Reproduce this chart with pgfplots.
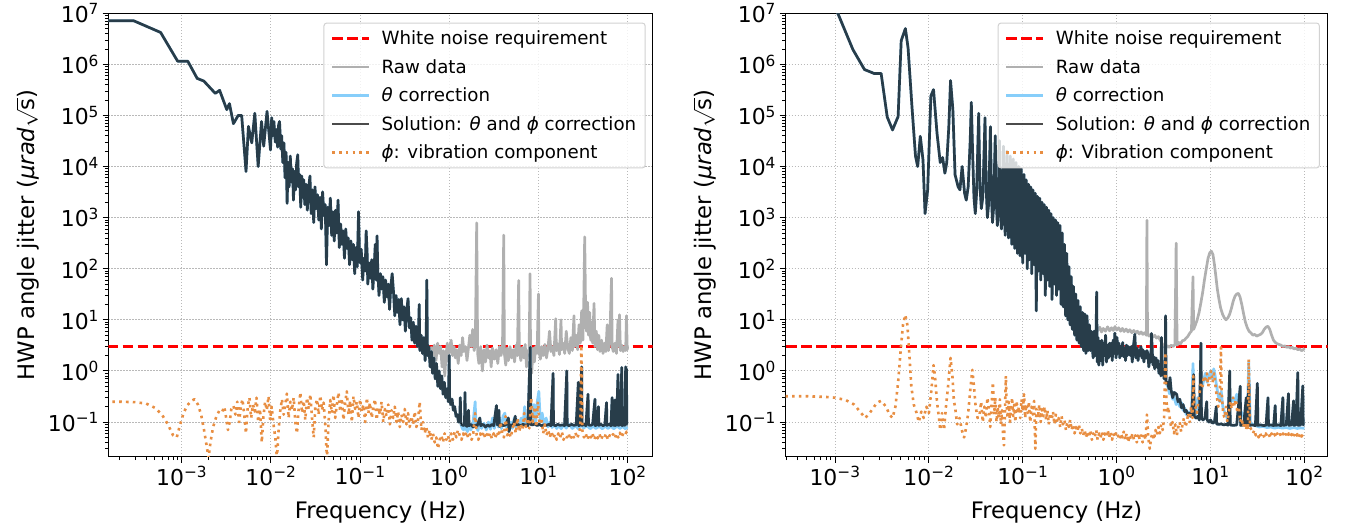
\documentclass[border=0pt]{standalone}
\usepackage{fontspec}
\setmainfont{DejaVu Sans}
\usepackage{pgfplots}
\usepackage{pgfplotstable}
\pgfplotsset{compat=1.18}

\definecolor{rawgray}{RGB}{176,176,176}
\definecolor{thetablue}{RGB}{135,206,250}
\definecolor{vibor}{RGB}{232,142,66}
\definecolor{gridgray}{RGB}{185,185,185}
\definecolor{legframe}{RGB}{210,210,210}

\newcommand\tp[1]{10\textsuperscript{#1}}

% ---------------- left panel data ----------------
\pgfplotstableread[row sep=\\]{
f v\\
1.4e-4 7.1e6\\ 2.9e-4 7.1e6\\ 5.8e-4 4.2e6\\ 9.0e-4 1.15e6\\ 1.17e-3 1.15e6\\
1.49e-3 5.3e5\\ 1.77e-3 4.7e5\\ 2.38e-3 2.7e5\\ 2.66e-3 3.1e5\\ 3.2e-3 1.3e5\\
3.43e-3 1.7e5\\ 3.8e-3 6.9e4\\ 4.3e-3 1.0e5\\ 4.7e-3 1.0e5\\ 5.26e-3 8.0e3\\
5.6e-3 6.1e4\\ 6.1e-3 2.9e4\\ 6.6e-3 1.1e5\\ 7.2e-3 1.0e4\\ 7.85e-3 7.6e4\\
8.3e-3 2.5e4\\ 9.05e-3 1.2e5\\ 9.9e-3 2.1e4\\ 1.02e-2 9.0e4\\ 1.05e-2 4.0e4\\
1.08e-2 7.6e4\\ 1.12e-2 3.0e4\\ 1.15e-2 5.3e4\\ 1.19e-2 2.4e4\\ 1.22e-2 6.5e4\\
1.25e-2 7.6e4\\ 1.29e-2 2.2e4\\ 1.32e-2 4.0e4\\ 1.36e-2 1.2e4\\ 1.40e-2 2.9e4\\
1.44e-2 6.0e3\\ 1.48e-2 1.9e4\\ 1.52e-2 1.9e3\\ 1.56e-2 1.2e4\\ 1.60e-2 4.0e3\\
1.65e-2 1.6e4\\ 1.70e-2 5.0e3\\ 1.75e-2 9.0e3\\ 1.79e-2 2.2e3\\ 1.84e-2 8.0e3\\
1.89e-2 3.5e3\\ 1.94e-2 1.1e4\\ 2.00e-2 1.7e4\\ 2.05e-2 4.0e3\\ 2.10e-2 7.0e3\\
2.16e-2 1.6e3\\ 2.22e-2 6.5e3\\ 2.28e-2 2.5e3\\ 2.33e-2 5.5e3\\ 2.40e-2 1.8e3\\
2.48e-2 4.5e3\\ 2.56e-2 1.4e3\\ 2.65e-2 3.8e3\\ 2.74e-2 6.5e3\\ 2.83e-2 1.2e3\\
2.92e-2 3.5e3\\ 3.02e-2 8.0e2\\ 3.12e-2 4.0e3\\ 3.22e-2 1.5e3\\ 3.33e-2 2.8e3\\
3.44e-2 9.0e2\\ 3.56e-2 2.5e3\\ 3.68e-2 6.0e2\\ 3.80e-2 3.2e3\\ 3.93e-2 1.1e3\\
4.06e-2 1.8e3\\ 4.20e-2 1.2e2\\ 4.34e-2 1.6e3\\ 4.49e-2 7.0e2\\ 4.64e-2 2.4e3\\
4.80e-2 4.5e2\\ 4.96e-2 1.3e3\\ 5.13e-2 3.5e2\\ 5.30e-2 1.4e3\\ 5.48e-2 5.0e2\\
5.66e-2 2.2e3\\ 5.85e-2 2.6e2\\ 6.05e-2 7.5e2\\ 6.25e-2 3.0e2\\ 6.46e-2 5.5e2\\
6.68e-2 1.6e2\\ 6.90e-2 6.0e2\\ 7.13e-2 2.5e2\\ 7.37e-2 4.0e2\\ 7.62e-2 1.2e2\\
7.88e-2 3.5e2\\ 8.15e-2 1.5e2\\ 8.42e-2 3.0e2\\ 8.70e-2 8.0e1\\ 9.00e-2 2.6e2\\
9.30e-2 1.1e2\\ 9.61e-2 1.3e3\\ 9.85e-2 2.0e2\\ 0.1005 1.3e2\\ 0.103 2.4e2\\
0.107 6.0e1\\ 0.110 1.6e2\\ 0.114 9.0e1\\ 0.117 5.5e2\\ 0.120 2.0e2\\
0.122 5.0e1\\ 0.126 1.3e2\\ 0.130 6.5e1\\ 0.135 1.5e2\\ 0.139 4.0e1\\
0.144 1.1e2\\ 0.148 3.0e2\\ 0.152 6.0e1\\ 0.155 4.4e2\\ 0.158 9.0e1\\
0.163 3.0e1\\ 0.169 8.0e1\\ 0.174 4.0e1\\ 0.180 7.0e1\\ 0.187 2.2e1\\
0.193 6.0e1\\ 0.200 2.8e1\\ 0.207 5.0e1\\ 0.214 1.6e1\\ 0.221 4.5e1\\
0.229 8.0e1\\ 0.237 3.5e1\\ 0.245 1.2e1\\ 0.253 3.0e1\\ 0.262 1.4e1\\
0.271 2.5e1\\ 0.280 8.0\\ 0.290 2.6e1\\ 0.300 1.0e1\\ 0.311 1.8e1\\
0.322 6.0\\ 0.333 1.5e1\\ 0.345 2.6e1\\ 0.357 7.0\\ 0.369 1.1e1\\
0.382 4.0\\ 0.395 9.0\\ 0.409 3.5\\ 0.423 7.5\\ 0.438 3.0\\
0.452 6.0\\ 0.460 2.0e1\\ 0.468 2.5\\ 0.484 5.0\\ 0.501 2.2\\
0.518 4.5\\ 0.536 1.6\\ 0.550 3.5\\ 0.560 6.0e1\\ 0.570 2.0\\
0.590 3.0\\ 0.610 1.2\\ 0.630 2.4\\ 0.650 0.9\\ 0.672 1.8\\
0.695 0.7\\ 0.719 1.4\\ 0.744 0.5\\ 0.770 1.0\\ 0.796 0.45\\
0.824 0.8\\ 0.852 0.35\\ 0.881 0.6\\ 0.912 0.3\\ 0.943 0.45\\
0.975 0.25\\ 1.000 2.0\\ 1.010 0.3\\ 1.040 0.22\\ 1.075 0.28\\
1.110 0.17\\ 1.150 0.2\\ 1.190 0.13\\ 1.230 0.14\\ 1.270 0.1\\
1.310 0.11\\ 1.330 0.30\\ 1.350 0.09\\
}\solLlo

\pgfplotstableread[row sep=\\]{
f v\\
1.35 0.09\\ 1.40 0.088\\ 1.45 0.085\\ 1.48 0.09\\ 1.50 0.38\\ 1.52 0.088\\ 1.58 0.082\\
1.64 0.17\\ 1.67 0.085\\ 1.75 0.09\\ 1.85 0.08\\ 1.95 0.088\\ 2.05 0.083\\ 2.20 0.12\\
2.25 0.085\\ 2.40 0.09\\ 2.55 0.08\\ 2.70 0.088\\ 2.85 0.082\\ 3.00 0.09\\ 3.15 0.085\\
3.38 0.21\\ 3.45 0.088\\ 3.60 0.17\\ 3.66 0.082\\ 3.85 0.09\\ 4.05 0.085\\ 4.30 0.088\\
4.60 0.12\\ 4.66 0.065\\ 4.90 0.088\\ 5.20 0.085\\ 5.50 0.13\\ 5.56 0.088\\ 5.90 0.09\\
6.30 0.085\\ 6.70 0.09\\ 7.10 0.088\\ 7.60 0.085\\ 8.10 2.9\\ 8.18 0.09\\ 8.60 0.088\\
9.10 0.092\\ 9.60 0.086\\ 10.2 0.09\\ 10.8 0.085\\ 11.5 0.088\\ 12.2 0.086\\ 13.0 0.09\\
13.8 0.085\\ 14.6 0.9\\ 14.75 0.088\\ 15.5 0.085\\ 16.5 0.09\\ 17.5 0.086\\ 18.5 0.088\\
19.6 0.085\\ 20.8 1.0\\ 21.0 0.088\\ 22.0 0.085\\ 23.5 0.09\\ 25.0 0.086\\ 26.5 0.088\\
28.0 0.6\\ 28.3 0.085\\ 29.5 0.088\\ 30.5 1.2\\ 30.8 0.086\\ 32.5 0.09\\ 34.0 0.085\\
36.0 0.35\\ 36.4 0.088\\ 38.5 0.086\\ 40.5 0.09\\ 43.0 0.28\\ 43.4 0.085\\ 45.0 0.088\\
47.0 0.2\\ 47.5 0.086\\ 50.0 0.09\\ 53.0 0.085\\ 55.5 0.088\\ 58.0 0.24\\ 58.6 0.086\\
62.0 0.09\\ 65.0 0.085\\ 67.0 0.3\\ 67.7 0.088\\ 70.0 0.086\\ 72.0 0.27\\ 72.7 0.085\\
75.0 0.09\\ 78.0 0.85\\ 78.8 0.086\\ 82.0 0.088\\ 86.0 1.17\\ 86.9 0.085\\ 90.0 0.09\\
93.0 0.086\\ 95.0 1.2\\ 96.0 0.35\\ 97.0 1.1\\ 98.0 0.09\\ 100 0.09\\
}\solLhi

\pgfplotstableread[row sep=\\]{
f v\\
1.35 0.09\\ 1.40 0.075\\ 1.45 0.07\\ 1.50 0.12\\ 1.55 0.072\\ 1.60 0.065\\ 1.68 0.085\\
1.75 0.07\\ 1.85 0.1\\ 1.95 0.25\\ 2.00 0.08\\ 2.10 0.068\\ 2.20 0.11\\ 2.30 0.075\\
2.45 0.095\\ 2.60 0.07\\ 2.75 0.1\\ 2.90 0.072\\ 3.05 0.12\\ 3.20 0.075\\ 3.40 0.14\\
3.55 0.08\\ 3.70 0.11\\ 3.85 0.074\\ 4.00 0.13\\ 4.20 0.15\\ 4.35 0.08\\ 4.50 0.12\\
4.70 0.07\\ 4.90 0.1\\ 5.10 0.075\\ 5.35 0.12\\ 5.60 0.078\\ 5.85 0.11\\ 6.10 0.08\\
6.40 0.12\\ 6.70 0.082\\ 7.00 0.2\\ 7.30 0.085\\ 7.60 0.13\\ 7.90 0.09\\ 8.20 0.3\\
8.50 0.11\\ 8.90 0.22\\ 9.30 0.09\\ 9.70 0.25\\ 10.1 0.4\\ 10.5 0.1\\ 11.0 0.15\\
11.6 0.085\\ 12.2 0.12\\ 12.8 0.08\\ 13.5 0.1\\ 14.2 0.078\\ 15.0 0.09\\ 16 0.075\\
17 0.085\\ 18 0.074\\ 19 0.088\\ 20.5 0.076\\ 22 0.09\\ 24 0.075\\ 26 0.085\\
28 0.074\\ 30 0.09\\ 32 0.076\\ 35 0.085\\ 38 0.074\\ 41 0.083\\ 44 0.075\\
48 0.082\\ 52 0.074\\ 56 0.083\\ 60 0.075\\ 65 0.082\\ 70 0.074\\ 76 0.083\\
82 0.075\\ 88 0.082\\ 94 0.074\\ 100 0.08\\
}\thLhi

\pgfplotstableread[row sep=\\]{
f v\\
0.62 3.0\\ 0.65 2.0\\ 0.68 3.2\\ 0.71 1.6\\ 0.74 3.5\\ 0.77 2.2\\ 0.80 3.0\\ 0.83 1.2\\
0.86 2.5\\ 0.89 0.8\\ 0.92 2.0\\ 0.95 3.5\\ 0.98 1.5\\ 1.01 2.8\\ 1.05 4.0\\ 1.09 2.0\\
1.13 3.0\\ 1.17 1.8\\ 1.21 2.6\\ 1.26 1.4\\ 1.31 3.2\\ 1.36 2.0\\ 1.41 4.5\\ 1.46 2.4\\
1.52 3.0\\ 1.58 1.6\\ 1.64 2.8\\ 1.70 5.0\\ 1.76 3.0\\ 1.83 6.5\\ 1.90 2.5\\ 1.96 3.5\\
2.03 790\\ 2.08 2.2\\ 2.15 1.4\\ 2.25 3.0\\ 2.35 1.0\\ 2.45 2.6\\ 2.55 1.5\\ 2.65 3.2\\
2.75 1.8\\ 2.85 2.5\\ 2.95 1.2\\ 3.05 2.8\\ 3.2 1.7\\ 3.35 2.6\\ 3.5 1.4\\ 3.65 3.0\\
3.8 2.0\\ 3.95 2.8\\ 4.08 455\\ 4.15 2.2\\ 4.3 1.3\\ 4.45 2.8\\ 4.6 1.6\\ 4.8 3.0\\
5.0 1.8\\ 5.2 2.6\\ 5.4 1.5\\ 5.6 3.2\\ 5.8 2.0\\ 6.0 59\\ 6.1 2.6\\ 6.35 1.6\\
6.6 2.9\\ 6.85 1.8\\ 7.1 3.3\\ 7.35 1.2\\ 7.6 2.5\\ 7.85 2.0\\ 8.05 80\\ 8.15 2.4\\
8.4 0.9\\ 8.7 2.8\\ 9.0 1.5\\ 9.3 3.0\\ 9.65 2.2\\ 10.0 32\\ 10.1 2.6\\ 10.5 1.7\\
10.9 3.0\\ 11.3 2.0\\ 11.8 3.3\\ 12.3 1.8\\ 12.8 2.8\\ 13.3 6.0\\ 13.8 2.4\\ 14.3 3.0\\
14.9 2.0\\ 15.6 10.5\\ 15.9 2.5\\ 16.5 3.4\\ 17.2 2.1\\ 17.9 10\\ 18.2 2.6\\ 18.9 3.5\\
19.7 2.2\\ 20.5 6\\ 21.3 2.8\\ 22.2 2.2\\ 23.1 4.5\\ 24.0 2.5\\ 25.0 12\\ 25.5 3.0\\
26.5 5.0\\ 27.5 2.6\\ 28.5 8.0\\ 29.5 3.5\\ 30.5 15\\ 31.5 4.0\\ 32.3 28\\ 33.0 420\\
33.7 20\\ 34.5 6\\ 35.5 22\\ 36.5 5\\ 37.5 14\\ 38.5 4\\ 39.5 9\\ 40.5 3.5\\
42.0 21\\ 43.0 3.0\\ 44.5 6\\ 46.0 2.6\\ 47.5 5\\ 49 2.4\\ 51 4\\ 53 2.2\\
55 3.5\\ 57 2.4\\ 59 8\\ 61 2.5\\ 63 4\\ 66 65\\ 67 3\\ 69 2.4\\
72 3.5\\ 75 2.2\\ 78 10\\ 80 3\\ 81 12.6\\ 83 2.5\\ 86 3.2\\ 89 2.4\\
92 3.0\\ 95 2.5\\ 97 12\\ 99 2.6\\ 100 3.0\\
}\rawL

\pgfplotstableread[row sep=\\]{
f v\\
1.4e-4 0.25\\ 2.0e-4 0.25\\ 3.0e-4 0.245\\ 4.0e-4 0.23\\ 5.0e-4 0.19\\ 6.0e-4 0.14\\
7.0e-4 0.09\\ 8.0e-4 0.055\\ 8.8e-4 0.05\\ 9.6e-4 0.09\\ 1.05e-3 0.15\\ 1.15e-3 0.21\\
1.28e-3 0.26\\ 1.40e-3 0.28\\ 1.52e-3 0.22\\ 1.65e-3 0.14\\ 1.78e-3 0.07\\ 1.90e-3 0.035\\
2.00e-3 0.02\\ 2.10e-3 0.04\\ 2.25e-3 0.08\\ 2.45e-3 0.13\\ 2.65e-3 0.17\\ 2.85e-3 0.16\\
3.00e-3 0.2\\ 3.15e-3 0.12\\ 3.30e-3 0.07\\ 3.45e-3 0.1\\ 3.60e-3 0.18\\ 3.80e-3 0.21\\
4.00e-3 0.14\\ 4.20e-3 0.25\\ 4.40e-3 0.1\\ 4.60e-3 0.2\\ 4.80e-3 0.28\\ 5.00e-3 0.15\\
5.25e-3 0.06\\ 5.50e-3 0.2\\ 5.75e-3 0.3\\ 6.00e-3 0.12\\ 6.30e-3 0.22\\ 6.60e-3 0.16\\
6.90e-3 0.3\\ 7.20e-3 0.1\\ 7.55e-3 0.18\\ 7.90e-3 0.04\\ 8.25e-3 0.13\\ 8.60e-3 0.25\\
9.00e-3 0.17\\ 9.40e-3 0.32\\ 9.80e-3 0.11\\ 1.02e-2 0.2\\ 1.07e-2 0.09\\ 1.12e-2 0.05\\
1.17e-2 0.019\\ 1.22e-2 0.07\\ 1.27e-2 0.16\\ 1.33e-2 0.28\\ 1.39e-2 0.14\\ 1.45e-2 0.22\\
1.51e-2 0.36\\ 1.58e-2 0.12\\ 1.65e-2 0.25\\ 1.72e-2 0.17\\ 1.80e-2 0.3\\ 1.88e-2 0.1\\
1.96e-2 0.06\\ 2.05e-2 0.19\\ 2.14e-2 0.38\\ 2.23e-2 0.15\\ 2.33e-2 0.26\\ 2.43e-2 0.11\\
2.54e-2 0.3\\ 2.65e-2 0.18\\ 2.77e-2 0.35\\ 2.89e-2 0.12\\ 3.02e-2 0.05\\ 3.15e-2 0.2\\
3.29e-2 0.28\\ 3.43e-2 0.14\\ 3.58e-2 0.33\\ 3.74e-2 0.17\\ 3.90e-2 0.24\\ 4.07e-2 0.09\\
4.25e-2 0.019\\ 4.43e-2 0.1\\ 4.63e-2 0.27\\ 4.83e-2 0.15\\ 5.04e-2 0.34\\ 5.26e-2 0.12\\
5.49e-2 0.22\\ 5.73e-2 0.38\\ 5.98e-2 0.16\\ 6.25e-2 0.29\\ 6.52e-2 0.11\\ 6.80e-2 0.24\\
7.10e-2 0.4\\ 7.41e-2 0.14\\ 7.74e-2 0.26\\ 8.08e-2 0.1\\ 8.43e-2 0.32\\ 8.80e-2 0.18\\
9.19e-2 0.25\\ 9.59e-2 0.12\\ 0.100 0.28\\ 0.104 0.16\\ 0.109 0.22\\ 0.114 0.1\\
0.119 0.3\\ 0.124 0.15\\ 0.129 0.24\\ 0.135 0.12\\ 0.141 0.2\\ 0.147 0.28\\
0.153 0.11\\ 0.160 0.19\\ 0.167 0.14\\ 0.174 0.25\\ 0.182 0.1\\ 0.190 0.18\\
0.198 0.13\\ 0.207 0.22\\ 0.216 0.09\\ 0.225 0.17\\ 0.235 0.12\\ 0.245 0.2\\
0.256 0.1\\ 0.267 0.16\\ 0.279 0.08\\ 0.291 0.14\\ 0.304 0.1\\ 0.317 0.18\\
0.331 0.09\\ 0.345 0.15\\ 0.360 0.08\\ 0.376 0.13\\ 0.393 0.09\\ 0.410 0.16\\
0.428 0.08\\ 0.447 0.11\\ 0.466 0.25\\ 0.487 0.07\\ 0.508 0.1\\ 0.530 0.06\\
0.553 0.08\\ 0.577 0.05\\ 0.603 0.07\\ 0.629 0.045\\ 0.657 0.06\\ 0.686 0.04\\
0.716 0.05\\ 0.747 0.03\\ 0.780 0.045\\ 0.814 0.055\\ 0.850 0.04\\ 0.887 0.06\\
0.926 0.045\\ 0.967 0.055\\ 1.01 0.04\\ 1.05 0.06\\ 1.10 0.045\\ 1.15 0.065\\
1.20 0.05\\ 1.25 0.07\\ 1.31 0.055\\ 1.37 0.045\\ 1.43 0.06\\ 1.49 0.05\\
1.56 0.065\\ 1.63 0.048\\ 1.70 0.058\\ 1.78 0.045\\ 1.86 0.06\\ 1.95 0.15\\
2.03 0.055\\ 2.12 0.045\\ 2.22 0.06\\ 2.32 0.05\\ 2.42 0.065\\ 2.53 0.048\\
2.64 0.058\\ 2.76 0.05\\ 2.88 0.062\\ 3.01 0.047\\ 3.15 0.06\\ 3.29 0.05\\
3.44 0.065\\ 3.59 0.052\\ 3.75 0.1\\ 3.92 0.06\\ 4.10 0.05\\ 4.28 0.13\\
4.47 0.055\\ 4.67 0.065\\ 4.88 0.05\\ 5.10 0.07\\ 5.33 0.1\\ 5.57 0.06\\
5.82 0.12\\ 6.08 0.065\\ 6.35 0.09\\ 6.64 0.07\\ 6.94 0.15\\ 7.25 0.08\\
7.57 0.12\\ 7.91 0.075\\ 8.27 0.3\\ 8.64 0.1\\ 9.03 0.2\\ 9.43 0.08\\
9.86 0.25\\ 10.3 0.09\\ 10.8 0.12\\ 11.3 0.06\\ 11.8 0.09\\ 12.3 0.055\\
12.9 0.07\\ 13.4 0.05\\ 14.0 0.065\\ 14.7 0.048\\ 15.3 0.058\\ 16.0 0.045\\
16.7 0.06\\ 17.5 0.05\\ 18.3 0.065\\ 19.1 0.045\\ 20.0 0.055\\ 20.9 0.05\\
21.8 0.06\\ 22.8 0.045\\ 23.8 0.058\\ 24.9 0.05\\ 26.0 0.062\\ 27.2 0.048\\
28.4 0.06\\ 29.5 0.08\\ 30.3 3.2\\ 31.0 0.07\\ 32.4 0.05\\ 33.9 0.06\\
35.4 0.045\\ 37.0 0.058\\ 38.7 0.05\\ 40.4 0.06\\ 42.2 0.045\\ 44.1 0.055\\
46.1 0.048\\ 48.2 0.06\\ 50.4 0.045\\ 52.7 0.055\\ 55.0 0.05\\ 57.5 0.06\\
60.1 0.045\\ 62.8 0.055\\ 65.6 0.05\\ 68.6 0.058\\ 71.7 0.048\\ 74.9 0.06\\
78.3 0.05\\ 81.8 0.062\\ 85.5 0.05\\ 89.3 0.06\\ 93.3 0.055\\ 97.5 0.065\\
100 0.06\\
}\vibL

% ---------------- right panel data ----------------
\pgfplotstableread[row sep=\\]{
f v\\
3.5e-4 1e9\\ 6.0e-4 1e8\\ 9.0e-4 2.0e7\\ 1.07e-3 1.0e7\\ 1.55e-3 1.95e6\\ 2.06e-3 7.9e5\\
2.62e-3 6.6e5\\ 3.10e-3 6.6e5\\ 3.60e-3 9.3e4\\ 4.10e-3 5.2e4\\ 4.70e-3 9.5e4\\
5.07e-3 2.9e6\\ 5.62e-3 5.0e6\\ 6.00e-3 2.1e6\\ 6.60e-3 1.5e5\\ 7.20e-3 1.6e4\\
7.60e-3 1.0e4\\ 8.10e-3 3.9e4\\ 8.65e-3 1.35e4\\ 9.10e-3 1.2e3\\ 9.70e-3 3.5e3\\
1.05e-2 2.4e5\\ 1.12e-2 3.2e5\\ 1.22e-2 4.5e4\\ 1.32e-2 1.2e4\\ 1.40e-2 1.5e4\\
1.48e-2 7.4e3\\ 1.55e-2 1.2e4\\ 1.63e-2 6.0e4\\ 1.70e-2 4.8e5\\ 1.80e-2 1.3e5\\
1.90e-2 6.9e3\\ 2.05e-2 4.0e3\\ 2.14e-2 3.5e3\\ 2.26e-2 1.0e4\\ 2.40e-2 3.0e3\\
2.50e-2 2.2e3\\ 2.62e-2 4.0e3\\ 2.75e-2 3.0e4\\ 2.83e-2 1.8e5\\ 2.92e-2 2.0e4\\
3.02e-2 2.5e3\\ 3.12e-2 1.2e3\\ 3.22e-2 3.0e3\\ 3.39e-2 1.1e5\\ 3.50e-2 4.0e3\\
3.62e-2 1.5e3\\ 3.75e-2 2.5e3\\ 3.96e-2 9.0e4\\ 4.08e-2 3.5e3\\ 4.20e-2 1.0e3\\
4.32e-2 1.8e3\\ 4.52e-2 6.0e4\\ 4.64e-2 2.5e3\\ 4.76e-2 8.0e2\\ 4.88e-2 1.5e3\\
5.09e-2 4.0e4\\ 5.22e-2 2.0e3\\ 5.36e-2 7.0e2\\ 5.48e-2 1.3e3\\ 5.65e-2 3.2e4\\
5.78e-2 1.5e3\\ 5.92e-2 6.0e2\\ 6.05e-2 1.1e3\\ 6.22e-2 2.5e4\\ 6.36e-2 1.2e3\\
6.50e-2 4.5e2\\ 6.78e-2 2.0e4\\ 6.92e-2 1.0e3\\ 7.06e-2 4.0e2\\ 7.35e-2 1.6e4\\
7.50e-2 8.0e2\\ 7.64e-2 3.0e2\\ 7.91e-2 1.4e4\\ 8.06e-2 7.0e2\\ 8.20e-2 2.5e2\\
8.48e-2 1.2e4\\ 8.63e-2 6.0e2\\ 8.77e-2 2.0e2\\ 9.04e-2 1.0e4\\ 9.19e-2 5.0e2\\
9.33e-2 1.8e2\\ 9.61e-2 9.0e3\\ 9.76e-2 4.0e2\\
0.1000 1.3e2\\ 0.1028 7.0e3\\ 0.1057 2.0e2\\ 0.1086 5.5e3\\ 0.1117 1.0e2\\
0.1148 4.5e3\\ 0.1180 1.5e2\\ 0.1213 4.0e3\\ 0.1247 8.0e1\\ 0.1282 3.5e3\\
0.1318 1.2e2\\ 0.1355 3.0e3\\ 0.1393 1.5e1\\ 0.1432 2.6e3\\ 0.1472 9.0e1\\
0.1514 2.4e3\\ 0.1556 6.0e1\\ 0.1600 2.0e3\\ 0.1644 8.0e1\\ 0.1690 1.8e3\\
0.1738 3.0e1\\ 0.1786 1.6e3\\ 0.1836 6.0e1\\ 0.1888 1.4e3\\ 0.1941 4.5e1\\
0.1995 1.2e3\\ 0.2051 2.5e1\\ 0.2109 1.0e3\\ 0.2168 5.0e1\\ 0.2228 9.0e2\\
0.2291 3.0e1\\ 0.2355 8.0e2\\ 0.2421 4.0e1\\ 0.2489 7.0e2\\ 0.2559 2.0e1\\
0.2630 5.0e2\\ 0.2704 1.8e1\\ 0.2780 3.0e2\\ 0.2858 1.2e1\\ 0.2938 2.0e2\\
0.3020 1.0e1\\ 0.3105 1.1e2\\ 0.3192 8.0\\ 0.3281 7.0e1\\ 0.3373 6.5\\
0.3467 4.5e1\\ 0.3565 5.0\\ 0.3664 3.2e1\\ 0.3767 4.0\\ 0.3873 2.4e1\\
0.3981 3.5\\ 0.4093 1.8e1\\ 0.4207 3.0\\ 0.4325 1.4e1\\ 0.4446 2.5\\
0.4571 1.3e1\\ 0.4699 2.2\\ 0.4831 1.2e1\\ 0.4966 2.5\\
0.512 8\\ 0.524 2.5\\ 0.536 6\\ 0.549 3\\ 0.562 1.8\\ 0.575 6\\ 0.589 2\\
0.603 5\\ 0.612 35\\ 0.620 1.5\\ 0.632 4.5\\ 0.646 1.3\\ 0.662 3.8\\ 0.678 1.6\\
0.694 4\\ 0.710 1.3\\ 0.727 3.5\\ 0.744 2\\ 0.762 5\\ 0.780 1.5\\ 0.798 3.2\\
0.817 1.8\\ 0.840 3.5\\ 0.856 2\\ 0.876 3.5\\ 0.897 1.6\\ 0.918 4\\ 0.94 2.2\\
0.955 5.5\\ 0.985 1.8\\ 1.008 4.5\\ 1.03 2.2\\ 1.055 3.5\\ 1.08 1.8\\ 1.106 3\\
1.132 2\\ 1.158 3.6\\ 1.186 1.9\\ 1.214 2.8\\ 1.243 1.6\\ 1.272 3.2\\ 1.302 2\\
1.333 3\\ 1.37 2.4\\ 1.40 2\\ 1.43 3\\ 1.465 1.5\\ 1.50 2.8\\ 1.56 5.2\\
1.60 1.8\\ 1.65 2.8\\ 1.69 1.6\\ 1.73 2.5\\ 1.77 2\\ 1.81 3\\ 1.86 1.8\\
1.90 2.6\\ 1.95 1.5\\ 2.00 2.4\\ 2.06 1.8\\ 2.10 2.5\\ 2.15 2.2\\ 2.20 1.2\\
2.26 2\\ 2.31 1.5\\ 2.35 5.4\\ 2.40 2.2\\ 2.44 1.3\\ 2.48 1.9\\ 2.54 1.1\\
2.62 1.8\\ 2.68 1.2\\ 2.75 1.6\\ 2.82 0.9\\ 2.90 1.3\\ 2.96 0.8\\ 3.00 4.5\\
3.05 0.9\\ 3.12 1.1\\ 3.20 0.7\\ 3.28 0.9\\ 3.32 12\\ 3.36 0.6\\ 3.40 0.55\\
}\solRlo

\pgfplotstableread[row sep=\\]{
f v\\
3.40 0.55\\ 3.5 0.6\\ 3.6 0.45\\ 3.7 0.74\\ 3.8 0.42\\ 3.95 0.3\\ 4.1 0.38\\
4.35 0.35\\ 4.5 0.25\\ 4.7 0.28\\ 4.9 0.19\\ 5.1 0.22\\ 5.3 0.16\\ 5.5 0.17\\
5.7 0.14\\ 5.9 0.15\\ 6.1 0.13\\ 6.3 0.14\\ 6.6 0.85\\ 6.7 0.13\\ 7.0 0.12\\
7.3 0.13\\ 7.6 0.11\\ 7.9 3.5\\ 8.0 0.12\\ 8.3 0.11\\ 8.7 0.12\\ 9.1 0.25\\
9.2 0.11\\ 9.6 0.1\\ 10.0 0.11\\ 10.5 0.095\\ 11.0 0.1\\ 11.5 0.2\\ 11.6 0.092\\
12.2 0.09\\ 13.0 0.092\\ 13.8 0.088\\ 14.6 0.09\\ 15.3 0.087\\ 16.0 1.0\\ 16.2 0.088\\
17.5 0.086\\ 19.0 0.088\\ 20.7 0.5\\ 20.9 0.086\\ 22.5 0.088\\ 24.0 0.3\\ 24.2 0.085\\
25.6 0.56\\ 25.9 0.086\\ 28.0 0.088\\ 30.0 0.085\\ 31.5 0.57\\ 31.9 0.086\\ 34.0 0.088\\
37.0 0.085\\ 39.0 0.087\\ 40.9 0.3\\ 41.4 0.086\\ 44.0 0.088\\ 47.0 0.085\\ 48.8 0.21\\
49.4 0.086\\ 53.0 0.088\\ 56.0 0.085\\ 58.9 0.3\\ 59.6 0.086\\ 64.0 0.088\\ 67.6 0.36\\
68.4 0.086\\ 73.0 0.088\\ 76.6 0.26\\ 77.5 0.086\\ 81.0 0.088\\ 85.0 0.93\\ 86.0 0.086\\
91.0 0.088\\ 96.0 0.51\\ 97.0 0.088\\ 100 0.088\\
}\solRhi

\pgfplotstableread[row sep=\\]{
f v\\
3.40 0.55\\ 3.5 0.5\\ 3.65 0.36\\ 3.8 0.4\\ 3.95 0.28\\ 4.1 0.3\\ 4.3 0.22\\
4.5 0.25\\ 4.7 0.2\\ 4.9 0.24\\ 5.1 0.17\\ 5.3 0.19\\ 5.5 0.14\\ 5.7 0.16\\
5.9 0.13\\ 6.1 0.15\\ 6.3 0.2\\ 6.5 1.4\\ 6.7 0.2\\ 6.9 0.14\\ 7.1 0.18\\
7.3 0.3\\ 7.6 0.22\\ 7.9 0.35\\ 8.2 0.5\\ 8.5 0.7\\ 8.8 0.9\\ 9.2 0.6\\
9.6 0.8\\ 10.0 1.0\\ 10.4 0.7\\ 10.8 1.1\\ 11.2 0.8\\ 11.6 0.5\\ 12.0 0.35\\
12.5 0.25\\ 13.0 0.4\\ 13.5 0.2\\ 14.2 0.15\\ 15 0.12\\ 16 0.2\\ 17 0.3\\
18 0.25\\ 19 0.35\\ 20 0.2\\ 21.5 0.15\\ 23 0.12\\ 24.5 0.1\\ 25.5 1.5\\
26.5 0.1\\ 28 0.09\\ 30 0.085\\ 33 0.08\\ 36 0.082\\ 40 0.078\\ 44 0.08\\
48 0.076\\ 53 0.079\\ 58 0.076\\ 64 0.078\\ 70 0.075\\ 77 0.078\\ 84 0.075\\
92 0.077\\ 100 0.075\\
}\thRhi

\pgfplotstableread[row sep=\\]{
f v\\
0.60 7.0\\ 0.63 6.2\\ 0.66 7.2\\ 0.69 5.8\\ 0.72 6.8\\ 0.76 6.0\\ 0.80 7.3\\ 0.84 6.1\\
0.88 7.0\\ 0.92 6.2\\ 0.96 7.4\\ 1.00 6.3\\ 1.05 7.0\\ 1.10 6.0\\ 1.15 6.8\\ 1.20 5.9\\
1.26 6.6\\ 1.32 5.8\\ 1.38 6.4\\ 1.45 5.6\\ 1.52 6.2\\ 1.59 5.5\\ 1.66 6.0\\ 1.74 5.3\\
1.82 5.8\\ 1.90 5.2\\ 1.98 5.6\\ 2.07 5.0\\ 2.10 890\\ 2.13 5.2\\ 2.22 4.8\\ 2.32 5.3\\
2.43 4.6\\ 2.54 5.0\\ 2.66 4.4\\ 2.78 4.7\\ 2.91 4.0\\ 3.04 3.5\\ 3.18 3.0\\ 3.33 2.8\\
3.48 3.1\\ 3.64 2.9\\ 3.81 3.2\\ 3.99 3.0\\ 4.17 3.3\\ 4.30 316\\ 4.40 3.2\\ 4.60 3.6\\
4.80 3.4\\ 5.00 3.9\\ 5.25 4.0\\ 5.50 4.4\\ 5.75 4.8\\ 6.00 5.5\\ 6.25 6.0\\ 6.50 70\\
6.60 6.5\\ 6.90 8.0\\ 7.20 10\\ 7.55 14\\ 7.90 22\\ 8.25 35\\ 8.60 60\\ 9.00 100\\
9.40 160\\ 9.80 205\\ 10.2 220\\ 10.6 190\\ 11.0 120\\ 11.4 70\\ 11.8 40\\ 12.3 25\\
12.8 17\\ 13.4 13\\ 14.0 11\\ 14.6 10\\ 15.3 11\\ 16.0 13\\ 16.7 17\\ 17.4 23\\
18.2 29\\ 19.0 32\\ 19.8 33\\ 20.6 28\\ 21.5 20\\ 22.5 13\\ 23.5 9\\ 24.6 7\\
25.7 6\\ 27.0 5.5\\ 28.3 5.0\\ 29.6 5.2\\ 31.0 4.8\\ 32.4 5.0\\ 34.0 5.2\\ 35.6 5.6\\
37.2 6.5\\ 39.0 7.2\\ 40.8 7.5\\ 42.7 6.5\\ 44.7 5.0\\ 46.8 4.0\\ 49.0 3.6\\ 51.3 3.4\\
53.7 3.3\\ 56.2 3.2\\ 58.8 3.0\\ 61.6 3.1\\ 64.5 2.9\\ 67.5 3.0\\ 70.7 2.8\\ 74.0 2.9\\
77.5 2.7\\ 81.1 2.8\\ 84.9 2.6\\ 88.9 2.7\\ 93.0 2.5\\ 97.4 2.6\\ 100 2.8\\
}\rawR

\pgfplotstableread[row sep=\\]{
f v\\
2.5e-4 0.32\\ 5.0e-4 0.32\\ 8.0e-4 0.31\\ 1.0e-3 0.3\\ 1.3e-3 0.27\\ 1.6e-3 0.22\\
1.9e-3 0.15\\ 2.1e-3 0.12\\ 2.4e-3 0.16\\ 2.8e-3 0.24\\ 3.1e-3 0.26\\ 3.5e-3 0.2\\
3.8e-3 0.14\\ 4.1e-3 0.12\\ 4.4e-3 0.2\\ 4.7e-3 0.6\\ 5.0e-3 2.5\\ 5.3e-3 8\\
5.6e-3 12.5\\ 5.9e-3 8\\ 6.2e-3 2.0\\ 6.5e-3 0.5\\ 6.9e-3 0.22\\ 7.4e-3 0.15\\
7.8e-3 0.1\\ 8.3e-3 0.16\\ 8.8e-3 0.12\\ 9.4e-3 0.2\\ 1.0e-2 0.15\\ 1.06e-2 0.4\\
1.12e-2 1.3\\ 1.16e-2 0.8\\ 1.22e-2 0.25\\ 1.28e-2 0.12\\ 1.32e-2 0.07\\ 1.38e-2 0.15\\
1.45e-2 0.07\\ 1.52e-2 0.2\\ 1.60e-2 0.5\\ 1.70e-2 1.8\\ 1.78e-2 0.8\\ 1.85e-2 0.25\\
1.90e-2 0.2\\ 2.00e-2 0.09\\ 2.12e-2 0.12\\ 2.24e-2 0.07\\ 2.37e-2 0.05\\ 2.50e-2 0.08\\
2.62e-2 0.15\\ 2.75e-2 0.4\\ 2.90e-2 1.05\\ 3.02e-2 0.5\\ 3.15e-2 0.2\\ 3.30e-2 0.12\\
3.45e-2 0.13\\ 3.60e-2 0.25\\ 3.75e-2 0.1\\ 3.90e-2 0.2\\ 4.05e-2 0.12\\ 4.20e-2 0.3\\
4.35e-2 0.18\\ 4.50e-2 0.08\\ 4.65e-2 0.22\\ 4.80e-2 0.6\\ 4.95e-2 0.14\\ 5.10e-2 0.3\\
5.25e-2 0.1\\ 5.40e-2 0.2\\ 5.55e-2 0.12\\ 5.70e-2 0.28\\ 5.85e-2 0.09\\ 6.00e-2 0.17\\
6.15e-2 0.06\\ 6.30e-2 0.035\\ 6.45e-2 0.15\\ 6.60e-2 0.8\\ 6.75e-2 0.2\\ 6.90e-2 0.12\\
7.10e-2 0.25\\ 7.30e-2 0.1\\ 7.50e-2 0.18\\ 7.70e-2 0.3\\ 7.90e-2 0.13\\ 8.10e-2 0.22\\
8.35e-2 0.1\\ 8.60e-2 0.26\\ 8.85e-2 0.15\\ 9.10e-2 0.2\\ 9.40e-2 0.12\\ 9.70e-2 0.28\\
0.100 0.16\\ 0.103 0.35\\ 0.106 0.12\\ 0.109 0.22\\ 0.113 0.15\\ 0.116 0.25\\
0.120 0.1\\ 0.124 0.2\\ 0.128 0.14\\ 0.132 0.26\\ 0.136 0.03\\ 0.140 0.18\\
0.145 0.12\\ 0.150 0.22\\ 0.155 0.1\\ 0.160 0.18\\ 0.165 0.13\\ 0.171 0.2\\
0.177 0.11\\ 0.183 0.17\\ 0.189 0.09\\ 0.196 0.15\\ 0.203 0.11\\ 0.210 0.16\\
0.217 0.09\\ 0.225 0.14\\ 0.233 0.1\\ 0.241 0.12\\ 0.250 0.08\\ 0.259 0.13\\
0.268 0.09\\ 0.278 0.11\\ 0.288 0.07\\ 0.298 0.1\\ 0.309 0.08\\ 0.320 0.11\\
0.331 0.07\\ 0.343 0.09\\ 0.356 0.06\\ 0.369 0.08\\ 0.382 0.065\\ 0.396 0.09\\
0.410 0.06\\ 0.425 0.075\\ 0.440 0.055\\ 0.456 0.07\\ 0.472 0.05\\ 0.489 0.065\\
0.507 0.05\\ 0.525 0.07\\ 0.544 0.045\\ 0.564 0.06\\ 0.584 0.05\\ 0.605 0.07\\
0.627 0.045\\ 0.650 0.06\\ 0.673 0.05\\ 0.697 0.065\\ 0.722 0.045\\ 0.748 0.06\\
0.775 0.05\\ 0.803 0.07\\ 0.832 0.05\\ 0.862 0.065\\ 0.893 0.045\\ 0.925 0.06\\
0.958 0.05\\ 0.993 0.065\\ 1.03 0.055\\ 1.07 0.045\\ 1.11 0.06\\ 1.15 0.05\\
1.19 0.065\\ 1.23 0.045\\ 1.28 0.06\\ 1.33 0.04\\ 1.37 0.055\\ 1.42 0.045\\
1.47 0.06\\ 1.53 0.045\\ 1.58 0.055\\ 1.64 0.04\\ 1.70 0.06\\ 1.76 0.045\\
1.82 0.055\\ 1.89 0.04\\ 1.96 0.06\\ 2.03 0.045\\ 2.10 0.14\\ 2.17 0.05\\
2.25 0.03\\ 2.33 0.05\\ 2.41 0.06\\ 2.50 0.045\\ 2.59 0.07\\ 2.68 0.055\\
2.78 0.08\\ 2.88 0.06\\ 2.98 0.09\\ 3.09 0.07\\ 3.20 0.12\\ 3.30 2.3\\
3.38 0.3\\ 3.46 0.15\\ 3.54 0.2\\ 3.67 0.12\\ 3.80 0.08\\ 3.94 0.1\\
4.08 0.06\\ 4.22 0.09\\ 4.37 0.055\\ 4.53 0.08\\ 4.69 0.1\\ 4.86 0.065\\
5.03 0.09\\ 5.21 0.12\\ 5.40 0.08\\ 5.59 0.1\\ 5.79 0.15\\ 6.00 0.1\\
6.21 0.2\\ 6.43 0.12\\ 6.55 0.8\\ 6.70 0.2\\ 6.90 0.2\\ 7.15 0.15\\
7.40 0.25\\ 7.67 0.4\\ 7.94 0.6\\ 8.22 0.5\\ 8.52 0.8\\ 8.82 0.6\\
9.14 0.9\\ 9.46 0.5\\ 9.80 0.8\\ 10.15 1.0\\ 10.5 0.6\\ 10.9 0.9\\
11.3 0.5\\ 11.7 0.3\\ 12.1 0.2\\ 12.5 0.25\\ 12.9 2.9\\ 13.1 0.4\\
13.6 0.15\\ 14.1 0.12\\ 14.6 0.2\\ 15.1 0.1\\ 15.6 0.15\\ 16.2 0.25\\
16.8 0.18\\ 17.4 0.3\\ 18.0 0.2\\ 18.6 0.28\\ 19.3 0.15\\ 20.0 0.2\\
20.7 0.1\\ 21.4 0.12\\ 22.2 0.08\\ 23.0 0.1\\ 23.8 0.07\\ 24.6 0.09\\
25.0 0.07\\ 25.5 1.7\\ 26.3 0.08\\ 27.3 0.07\\ 28.3 0.06\\ 29.3 0.07\\
30.3 0.055\\ 31.4 0.06\\ 32.5 0.05\\ 33.7 0.06\\ 34.9 0.052\\ 36.1 0.058\\
37.4 0.05\\ 38.8 0.06\\ 40.2 0.052\\ 41.6 0.058\\ 43.1 0.05\\ 44.6 0.06\\
46.2 0.052\\ 47.9 0.058\\ 49.6 0.05\\ 51.3 0.06\\ 53.2 0.052\\ 55.1 0.058\\
57.0 0.05\\ 59.1 0.06\\ 61.2 0.052\\ 63.3 0.058\\ 65.6 0.05\\ 67.9 0.06\\
70.4 0.052\\ 72.9 0.058\\ 75.5 0.05\\ 78.1 0.06\\ 80.9 0.052\\ 83.8 0.058\\
86.8 0.05\\ 89.9 0.06\\ 93.1 0.052\\ 96.4 0.058\\ 100 0.055\\
}\vibR

% line styles (TikZ styles, so the legend images pick them up directly)
\tikzset{
  reqline/.style={red, line width=2.7bp, dash pattern=on 10.5bp off 4.5bp},
  rawline/.style={rawgray, line width=2.7bp, line join=round},
  thline/.style={thetablue, line width=2.7bp, line join=round},
  solline/.style={black, draw opacity=0.7, line width=2.7bp, line join=round},
  vibline/.style={vibor, line width=2.6bp, line join=round, dash pattern=on 2.6bp off 4.2bp},
}
\pgfplotsset{
  legend image code/.code={\draw[line width=2.7bp, #1] (0bp,0bp) -- (37bp,0bp);},
}

\begin{document}
\begin{tikzpicture}
\useasboundingbox (0,0) rectangle (1348bp,531bp);

% left panel
\begin{axis}[
    at={(108.5bp,74.3bp)}, anchor=south west,
    xmode=log, ymode=log,
    scale only axis, width=544bp, height=443.5bp,
    xmin=1.51e-4, xmax=190, ymin=0.021, ymax=1e7,
    axis line style={line width=1.1bp},
    tick pos=left, tick align=outside,
    major tick length=6bp, minor tick length=3.5bp,
    every major tick/.style={black, line width=1.0bp},
    every minor tick/.style={black, line width=0.8bp},
    grid=major,
    major grid style={gridgray, line width=1bp, dash pattern=on 1.1bp off 1.9bp},
    xtick={1e-3,1e-2,1e-1,1,10,100},
    xticklabels={\tp{−3},\tp{−2},\tp{−1},\tp{0},\tp{1},\tp{2}},
    minor xtick={2e-4,3e-4,4e-4,5e-4,6e-4,7e-4,8e-4,9e-4,
      2e-3,3e-3,4e-3,5e-3,6e-3,7e-3,8e-3,9e-3,2e-2,3e-2,4e-2,5e-2,6e-2,7e-2,8e-2,9e-2,
      0.2,0.3,0.4,0.5,0.6,0.7,0.8,0.9,2,3,4,5,6,7,8,9,20,30,40,50,60,70,80,90},
    ytick={1e-1,1,10,100,1e3,1e4,1e5,1e6,1e7},
    yticklabels={\tp{−1},\tp{0},\tp{1},\tp{2},\tp{3},\tp{4},\tp{5},\tp{6},\tp{7}},
    minor ytick={0.03,0.04,0.05,0.06,0.07,0.08,0.09,
      0.2,0.3,0.4,0.5,0.6,0.7,0.8,0.9,2,3,4,5,6,7,8,9,
      20,30,40,50,60,70,80,90,200,300,400,500,600,700,800,900,
      2e3,3e3,4e3,5e3,6e3,7e3,8e3,9e3,2e4,3e4,4e4,5e4,6e4,7e4,8e4,9e4,
      2e5,3e5,4e5,5e5,6e5,7e5,8e5,9e5,2e6,3e6,4e6,5e6,6e6,7e6,8e6,9e6},
    tick label style={font=\fontsize{22}{26}\selectfont},
    xlabel style={font=\fontsize{22.8}{27}\selectfont},
    ylabel style={font=\fontsize{22.8}{27}\selectfont},
    xlabel shift=9bp, ylabel shift=2bp,
    xlabel={Frequency (Hz)},
    ylabel={HWP angle jitter (\textit{μrad}$\sqrt{\mbox{s}}$)},
    legend cell align=left,
    legend style={at={(0.9875,0.979)}, anchor=north east, draw=legframe, line width=1bp,
      rounded corners=3bp, fill=white, fill opacity=0.8, text opacity=1,
      font=\fontsize{18.3}{22}\selectfont, inner xsep=7bp, inner ysep=6bp,
      row sep=9bp, /tikz/every odd column/.append style={column sep=9bp}},
  ]
\addplot[reqline] coordinates {(1e-4,3) (300,3)};
\addlegendentry{White noise requirement}
\addplot[rawline] table[x=f,y=v] {\rawL};
\addlegendentry{Raw data}
\addplot[thline] table[x=f,y=v] {\solLlo};
\addlegendentry{\textit{θ} correction}
\addplot[thline, forget plot] table[x=f,y=v] {\solLhi};
\addplot[thline, forget plot] table[x=f,y=v] {\thLhi};
\addplot[solline] table[x=f,y=v] {\solLlo};
\addlegendentry{Solution: \textit{θ} and \textit{ϕ} correction}
\addplot[solline, forget plot] table[x=f,y=v] {\solLhi};
\addplot[vibline] table[x=f,y=v] {\vibL};
\addlegendentry{\textit{ϕ}: vibration component}
\end{axis}

% right panel
\begin{axis}[
    at={(785.5bp,74.3bp)}, anchor=south west,
    xmode=log, ymode=log,
    scale only axis, width=542bp, height=443.5bp,
    xmin=2.97e-4, xmax=176, ymin=0.021, ymax=1e7,
    axis line style={line width=1.1bp},
    tick pos=left, tick align=outside,
    major tick length=6bp, minor tick length=3.5bp,
    every major tick/.style={black, line width=1.0bp},
    every minor tick/.style={black, line width=0.8bp},
    grid=major,
    major grid style={gridgray, line width=1bp, dash pattern=on 1.1bp off 1.9bp},
    xtick={1e-3,1e-2,1e-1,1,10,100},
    xticklabels={\tp{−3},\tp{−2},\tp{−1},\tp{0},\tp{1},\tp{2}},
    minor xtick={3e-4,4e-4,5e-4,6e-4,7e-4,8e-4,9e-4,
      2e-3,3e-3,4e-3,5e-3,6e-3,7e-3,8e-3,9e-3,2e-2,3e-2,4e-2,5e-2,6e-2,7e-2,8e-2,9e-2,
      0.2,0.3,0.4,0.5,0.6,0.7,0.8,0.9,2,3,4,5,6,7,8,9,20,30,40,50,60,70,80,90},
    ytick={1e-1,1,10,100,1e3,1e4,1e5,1e6,1e7},
    yticklabels={\tp{−1},\tp{0},\tp{1},\tp{2},\tp{3},\tp{4},\tp{5},\tp{6},\tp{7}},
    minor ytick={0.03,0.04,0.05,0.06,0.07,0.08,0.09,
      0.2,0.3,0.4,0.5,0.6,0.7,0.8,0.9,2,3,4,5,6,7,8,9,
      20,30,40,50,60,70,80,90,200,300,400,500,600,700,800,900,
      2e3,3e3,4e3,5e3,6e3,7e3,8e3,9e3,2e4,3e4,4e4,5e4,6e4,7e4,8e4,9e4,
      2e5,3e5,4e5,5e5,6e5,7e5,8e5,9e5,2e6,3e6,4e6,5e6,6e6,7e6,8e6,9e6},
    tick label style={font=\fontsize{22}{26}\selectfont},
    xlabel style={font=\fontsize{22.8}{27}\selectfont},
    ylabel style={font=\fontsize{22.8}{27}\selectfont},
    xlabel shift=9bp, ylabel shift=2bp,
    xlabel={Frequency (Hz)},
    ylabel={HWP angle jitter (\textit{μrad}$\sqrt{\mbox{s}}$)},
    legend cell align=left,
    legend style={at={(0.986,0.979)}, anchor=north east, draw=legframe, line width=1bp,
      rounded corners=3bp, fill=white, fill opacity=0.8, text opacity=1,
      font=\fontsize{18.3}{22}\selectfont, inner xsep=7bp, inner ysep=6bp,
      row sep=9bp, /tikz/every odd column/.append style={column sep=9bp}},
  ]
\addplot[reqline] coordinates {(1e-4,3) (300,3)};
\addlegendentry{White noise requirement}
\addplot[rawline] table[x=f,y=v] {\rawR};
\addlegendentry{Raw data}
\addplot[thline] table[x=f,y=v] {\solRlo};
\addlegendentry{\textit{θ} correction}
\addplot[thline, forget plot] table[x=f,y=v] {\solRhi};
\addplot[thline, forget plot] table[x=f,y=v] {\thRhi};
\addplot[solline] table[x=f,y=v] {\solRlo};
\addlegendentry{Solution: \textit{θ} and \textit{ϕ} correction}
\addplot[solline, forget plot] table[x=f,y=v] {\solRhi};
\addplot[vibline] table[x=f,y=v] {\vibR};
\addlegendentry{\textit{ϕ}: Vibration component}
\end{axis}
\end{tikzpicture}
\end{document}
